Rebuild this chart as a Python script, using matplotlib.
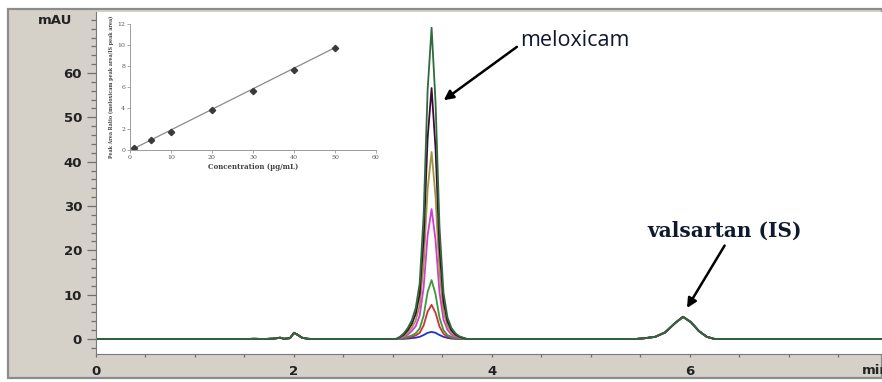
"""Overlaid HPLC chromatograms of meloxicam with valsartan (IS), plus calibration inset."""

import matplotlib

matplotlib.use("Agg")

import matplotlib.pyplot as plt
import numpy as np
from matplotlib.patches import Rectangle

# ---- chromatogram data (time in min, signal in mAU) ----
run_start = 0.0
run_end = 7.94

# small peak near 2 min (same in every run)
minor_time = [1.50, 1.60, 1.70, 1.80, 1.86, 1.90, 1.96, 2.00, 2.04, 2.08, 2.14, 2.20]
minor_signal = [0.0, 0.05, 0.0, 0.1, 0.3, 0.05, 0.2, 1.4, 0.9, 0.3, 0.05, 0.0]

# meloxicam peak, one row per injected concentration
melox_time = [3.03, 3.07, 3.11, 3.15, 3.19, 3.23, 3.27, 3.31, 3.35, 3.39,
              3.43, 3.47, 3.51, 3.55, 3.59, 3.63, 3.67, 3.71, 3.75, 3.79]
melox_70 = [0.0, 0.5, 1.3, 2.5, 4.2, 7.0, 12.6, 28.1, 56.2, 70.2,
            53.4, 25.3, 10.5, 4.9, 2.5, 1.3, 0.6, 0.3, 0.0, 0.0]
melox_57 = [0.0, 0.4, 1.0, 2.0, 3.4, 5.7, 10.2, 22.6, 45.3, 56.6,
            43.0, 20.4, 8.5, 4.0, 2.0, 1.0, 0.5, 0.2, 0.0, 0.0]
melox_42 = [0.0, 0.3, 0.7, 1.5, 2.5, 4.2, 7.6, 16.9, 33.8, 42.2,
            32.1, 15.2, 6.3, 3.0, 1.5, 0.8, 0.4, 0.2, 0.0, 0.0]
melox_29 = [0.0, 0.2, 0.5, 1.0, 1.8, 2.9, 5.3, 11.7, 23.4, 29.3,
            22.3, 10.5, 4.4, 2.1, 1.0, 0.5, 0.3, 0.1, 0.0, 0.0]
melox_13 = [0.0, 0.1, 0.3, 0.5, 0.8, 1.3, 2.4, 5.3, 10.6, 13.3,
            10.1, 4.8, 2.0, 0.9, 0.5, 0.2, 0.1, 0.05, 0.0, 0.0]
melox_8 = [0.0, 0.05, 0.15, 0.3, 0.5, 0.8, 1.4, 3.1, 6.2, 7.7,
           5.9, 2.8, 1.2, 0.5, 0.3, 0.1, 0.1, 0.0, 0.0, 0.0]
melox_2 = [0.0, 0.0, 0.05, 0.1, 0.2, 0.3, 0.5, 0.9, 1.4, 1.6,
           1.4, 0.9, 0.5, 0.25, 0.1, 0.05, 0.0, 0.0, 0.0, 0.0]

# valsartan (internal standard) peak, same in every run
is_time = [5.45, 5.55, 5.65, 5.75, 5.85, 5.93, 6.01, 6.09, 6.17, 6.25]
is_signal = [0.0, 0.2, 0.5, 1.5, 3.6, 5.0, 3.8, 1.8, 0.5, 0.0]

runs = [melox_2, melox_8, melox_13, melox_29, melox_42, melox_57, melox_70]
run_colors = ["#2233cc", "#cc3333", "#3c9a3c", "#d23cd2", "#9e9640", "#3d0a38", "#2f6b3d"]

# ---- calibration inset data ----
conc = [1, 5, 10, 20, 30, 40, 50]
area_ratio = [0.2, 0.95, 1.75, 3.85, 5.65, 7.6, 9.75]
fit_conc = [1, 50]
fit_ratio = [0.15, 9.75]

W, H = 882, 382
fig = plt.figure(figsize=(W / 100, H / 100), dpi=100)
fig.patch.set_facecolor("white")

# grey instrument-software frame
frame = Rectangle((8 / W, 4 / H), (W - 8) / W, (H - 13) / H, transform=fig.transFigure,
                  facecolor="#d5d1c9", edgecolor="#8c8c8c", linewidth=1.6, zorder=-5)
fig.patches.append(frame)

ax = fig.add_axes([96 / W, (H - 354) / H, (W - 96) / W, (354 - 12) / H])
ax.set_facecolor("white")

for sig, color in zip(runs, run_colors):
    t = np.concatenate([[run_start], minor_time, melox_time, is_time, [run_end]])
    y = np.concatenate([[0.0], minor_signal, sig, is_signal, [0.0]])
    ax.plot(t, y, color=color, linewidth=1.3)

ax.set_xlim(0, 7.94)
ax.set_ylim(-3.38, 73.76)
ax.set_xticks([0, 2, 4, 6])
ax.set_xticks(np.arange(0, 8, 0.5), minor=True)
ax.set_yticks(range(0, 70, 10))
ax.set_yticks(range(-2, 74, 2), minor=True)
ax.tick_params(axis="y", which="major", length=6.5, width=0.9, color="#707070", pad=3.5,
               labelsize=9.5)
ax.tick_params(axis="y", which="minor", length=3.5, width=0.9, color="#707070")
ax.tick_params(axis="x", which="both", length=2.5, width=0.9, color="#707070", pad=5.5,
               labelsize=9.5)
for lab in ax.get_xticklabels() + ax.get_yticklabels():
    lab.set_fontweight("bold")
    lab.set_color("#222222")
for side in ["top", "right"]:
    ax.spines[side].set_visible(False)
for side in ["left", "bottom"]:
    ax.spines[side].set_color("#7a7a7a")

fig.text(55 / W, (H - 21) / H, "mAU", ha="center", va="center", fontsize=9.5,
         fontweight="bold", color="#222222")
fig.text(862 / W, (H - 371) / H, "min", ha="left", va="center", fontsize=9.5,
         fontweight="bold", color="#222222")

# peak labels
ax.annotate("meloxicam", xy=(3.49, 53.5), xytext=(4.28, 67.3), fontsize=15.5,
            family="Open Sans", color="#101830", ha="left", va="center",
            arrowprops=dict(arrowstyle="-|>", color="black", lw=1.8, mutation_scale=14,
                            shrinkA=0, shrinkB=2, relpos=(0.0, 0.3)))
ax.annotate("valsartan (IS)", xy=(5.97, 7.0), xytext=(5.57, 24.5), fontsize=14.5,
            family="DejaVu Serif", fontweight="bold", color="#101830", ha="left",
            va="center",
            arrowprops=dict(arrowstyle="-|>", color="black", lw=1.8, mutation_scale=14,
                            shrinkA=2, shrinkB=0, relpos=(0.52, 0.0)))

# calibration curve inset
ins = fig.add_axes([130 / W, (H - 150) / H, (376 - 130) / W, (150 - 24) / H])
ins.set_facecolor("none")
ins.plot(fit_conc, fit_ratio, color="#8a8a8a", linewidth=0.9)
ins.plot(conc, area_ratio, linestyle="none", marker="D", markersize=3.2, color="#3a3a3a")
ins.set_xlim(0, 60)
ins.set_ylim(0, 12)
ins.set_xticks(range(0, 61, 10))
ins.set_yticks(range(0, 13, 2))
ins.tick_params(length=2, width=0.6, color="#9a9a9a", labelsize=4.5, labelcolor="#555555",
                pad=1.5)
for lab in ins.get_xticklabels() + ins.get_yticklabels():
    lab.set_family("DejaVu Serif")
for side in ["top", "right"]:
    ins.spines[side].set_visible(False)
for side in ["left", "bottom"]:
    ins.spines[side].set_color("#9a9a9a")
    ins.spines[side].set_linewidth(0.7)
ins.set_xlabel("Concentration (\u00b5g/mL)", fontsize=5, family="DejaVu Serif",
               fontweight="bold", color="#444444", labelpad=2)
ins.set_ylabel("Peak Area Ratio (meloxicam peak area/IS peak area)", fontsize=3.4,
               family="DejaVu Serif", fontweight="bold", color="#444444", labelpad=2)

fig.savefig("out.png", dpi=100)
